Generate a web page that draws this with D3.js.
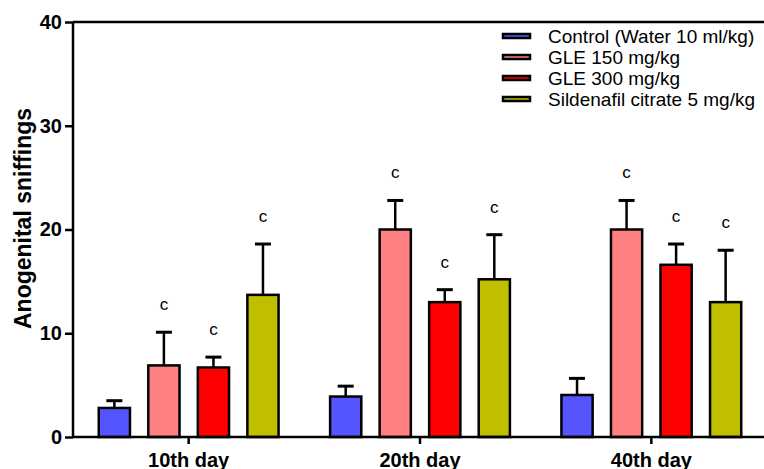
<!DOCTYPE html>
<html>
<head>
<meta charset="utf-8">
<script src="https://cdn.jsdelivr.net/npm/d3@7"></script>
<style>
  body { margin: 0; background: #fff; }
  svg { display: block; font-family: "Liberation Sans", Arial, sans-serif; }
</style>
</head>
<body>
<script>
const days = ["10th day", "20th day", "40th day"];
const groups = ["Control (Water 10 ml/kg)", "GLE 150 mg/kg", "GLE 300 mg/kg", "Sildenafil citrate 5 mg/kg"];
const colors = ["#5555ff", "#ff8080", "#ff0000", "#bfbf00"];

// mean per group, one array per day
const means = [
  [2.8, 6.9, 6.7, 13.7],
  [3.9, 20.0, 13.0, 15.2],
  [4.05, 20.0, 16.6, 13.0]
];
// mean + SEM (top of error bar)
const errTop = [
  [3.5, 10.1, 7.7, 18.6],
  [4.9, 22.8, 14.2, 19.5],
  [5.65, 22.8, 18.6, 18.0]
];
const sig = [
  ["", "c", "c", "c"],
  ["", "c", "c", "c"],
  ["", "c", "c", "c"]
];
const yTicks = [0, 10, 20, 30, 40];

const W = 764, H = 469;
const margin = { top: 22, right: -3, bottom: 32, left: 73 };

const svg = d3.select("body").append("svg")
  .attr("width", W)
  .attr("height", H);

const x = d3.scaleBand().domain(days).range([margin.left, W - margin.right]).padding(0);
const y = d3.scaleLinear().domain([0, 40]).range([H - margin.bottom, margin.top]);
const xi = d3.scaleBand().domain(groups).range([0, x.bandwidth()]).paddingInner(0.37).paddingOuter(0.52);

// bars
days.forEach(function (day, i) {
  var g = svg.append("g").attr("transform", "translate(" + x(day) + ",0)");
  groups.forEach(function (grp, j) {
    var cx = xi(grp) + xi.bandwidth() / 2;
    // error bar
    g.append("line")
      .attr("x1", cx).attr("x2", cx)
      .attr("y1", y(means[i][j])).attr("y2", y(errTop[i][j]))
      .attr("stroke", "#000").attr("stroke-width", 2.5);
    g.append("line")
      .attr("x1", cx - 8).attr("x2", cx + 8)
      .attr("y1", y(errTop[i][j])).attr("y2", y(errTop[i][j]))
      .attr("stroke", "#000").attr("stroke-width", 3);
    g.append("rect")
      .attr("x", xi(grp))
      .attr("y", y(means[i][j]))
      .attr("width", xi.bandwidth())
      .attr("height", y(0) - y(means[i][j]))
      .attr("fill", colors[j])
      .attr("stroke", "#000")
      .attr("stroke-width", 2.5);
    if (sig[i][j]) {
      g.append("text")
        .attr("x", cx)
        .attr("y", y(errTop[i][j]) - 22)
        .attr("text-anchor", "middle")
        .style("font-size", "17px")
        .text(sig[i][j]);
    }
  });
});

// top frame line
svg.append("line")
  .attr("x1", margin.left).attr("x2", W)
  .attr("y1", y(40)).attr("y2", y(40))
  .attr("stroke", "#000").attr("stroke-width", 2.5);

// y axis
const yAxis = svg.append("g")
  .attr("transform", "translate(" + margin.left + ",0)")
  .call(d3.axisLeft(y).tickValues(yTicks).tickSize(8).tickPadding(3));
yAxis.select(".domain").attr("stroke-width", 2.5).attr("d", "M0," + y(0) + "V" + y(40));
yAxis.selectAll(".tick line").attr("stroke-width", 2.5);
yAxis.selectAll(".tick text")
  .style("font-family", "Liberation Sans, Arial, sans-serif")
  .style("font-size", "20px").style("font-weight", "bold").attr("fill", "#000");

// x axis
const xAxis = svg.append("g")
  .attr("transform", "translate(0," + y(0) + ")")
  .call(d3.axisBottom(x).tickSize(7).tickPadding(9));
xAxis.select(".domain").attr("stroke-width", 2.5).attr("d", "M" + margin.left + ",0H" + W);
xAxis.selectAll(".tick line").attr("stroke-width", 2.5);
xAxis.selectAll(".tick text")
  .style("font-family", "Liberation Sans, Arial, sans-serif")
  .style("font-size", "20px").style("font-weight", "bold").attr("fill", "#000");

// y axis title
svg.append("text")
  .attr("transform", "translate(31," + (y(20) - 11) + ") rotate(-90)")
  .attr("text-anchor", "middle")
  .style("font-size", "23px")
  .style("font-weight", "bold")
  .text("Anogenital sniffings");

// legend
const legend = svg.append("g").attr("transform", "translate(503,36)");
groups.forEach(function (grp, j) {
  var row = legend.append("g").attr("transform", "translate(0," + (j * 21) + ")");
  row.append("rect")
    .attr("x", 0).attr("y", -2)
    .attr("width", 27).attr("height", 4)
    .attr("fill", colors[j])
    .attr("stroke", "#000").attr("stroke-width", 2.5);
  row.append("text")
    .attr("x", 45).attr("y", 7)
    .style("font-size", "19px")
    .text(grp);
});
</script>
</body>
</html>
